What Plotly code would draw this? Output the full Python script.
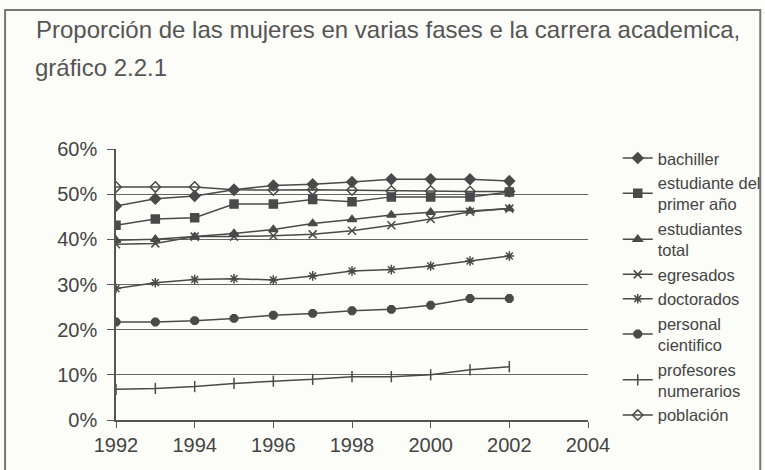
import plotly.graph_objects as go

# años y proporciones
years = [1992, 1993, 1994, 1995, 1996, 1997, 1998, 1999, 2000, 2001, 2002]

bachiller = [0.474, 0.490, 0.496, 0.510, 0.519, 0.522, 0.527, 0.533, 0.533, 0.533, 0.529]
primer_ano = [0.431, 0.445, 0.448, 0.478, 0.478, 0.488, 0.483, 0.494, 0.494, 0.494, 0.505]
estudiantes_total = [0.398, 0.400, 0.406, 0.413, 0.422, 0.435, 0.444, 0.454, 0.460, 0.463, 0.468]
egresados = [0.389, 0.391, 0.406, 0.406, 0.408, 0.411, 0.419, 0.431, 0.445, 0.461, 0.468]
doctorados = [0.291, 0.304, 0.311, 0.313, 0.310, 0.319, 0.330, 0.333, 0.341, 0.352, 0.363]
personal_cientifico = [0.217, 0.217, 0.220, 0.225, 0.232, 0.236, 0.242, 0.245, 0.254, 0.269, 0.269]
profesores = [0.068, 0.070, 0.074, 0.081, 0.086, 0.090, 0.096, 0.096, 0.100, 0.111, 0.118]
poblacion = [0.516, 0.516, 0.516, 0.510, 0.509, 0.510, 0.509, 0.507, 0.507, 0.506, 0.506]

series = [
    ("bachiller", bachiller, "diamond"),
    ("estudiante del<br>primer año", primer_ano, "square"),
    ("estudiantes<br>total", estudiantes_total, "triangle-up"),
    ("egresados", egresados, "x-thin-open"),
    ("doctorados", doctorados, "asterisk-open"),
    ("personal<br>cientifico", personal_cientifico, "octagon"),
    ("profesores<br>numerarios", profesores, "line-ns-open"),
    ("población", poblacion, "diamond-open"),
]

ink = "#4a4a4a"
fig = go.Figure()
for i, (name, vals, sym) in enumerate(series):
    fig.add_trace(go.Scatter(
        x=years, y=vals, name=name, mode="lines+markers", legendgroup=str(i),
        line=dict(color=ink, width=1.5),
        marker=dict(symbol=sym, size=8, color=ink, line=dict(color=ink, width=1.5)),
    ))

# marco exterior del gráfico
fig.add_shape(type="rect", xref="paper", yref="paper", x0=-0.235, x1=1.365, y0=-0.25, y1=1.513,
              line=dict(color="#777", width=2), layer="below")

# segunda línea del título
fig.add_annotation(text="gráfico 2.2.1", xref="paper", yref="paper", x=-0.176, xanchor="left",
                   y=1.302, yanchor="middle", showarrow=False, font=dict(size=24, color="#555"))

fig.update_layout(
    width=765, height=470,
    margin=dict(l=116, r=177, t=149, b=50, autoexpand=False),
    paper_bgcolor="#fcfcf9", plot_bgcolor="#fcfcf9",
    font=dict(family="Liberation Sans, Arial, sans-serif", color="#444"),
    title=dict(text="Proporción de las mujeres en varias fases e la carrera academica,",
               x=0.047, xanchor="left", y=0.938, yanchor="middle",
               font=dict(size=24, color="#555")),
    legend=dict(x=1.063, xanchor="left", y=1.03, yanchor="top", tracegroupgap=0,
                maxheight=470, font=dict(size=16.5, color="#444"), bgcolor="rgba(0,0,0,0)"),
    showlegend=True,
)
fig.update_xaxes(range=[1992, 2004], dtick=2, tick0=1992, showgrid=False,
                 showline=True, linecolor="#555", linewidth=1.5,
                 ticks="outside", ticklen=6, tickcolor="#555",
                 tickfont=dict(size=20, color="#444"), zeroline=False)
fig.update_yaxes(range=[0, 0.6], dtick=0.1, tickformat=".0%", showgrid=True,
                 gridcolor="#666", gridwidth=1, showline=True, linecolor="#555", linewidth=1.5,
                 ticks="outside", ticklen=7, tickcolor="#555", ticklabelstandoff=6,
                 tickfont=dict(size=20, color="#444"), zeroline=False)

fig.write_html("out.html", config={"displayModeBar": False},
               post_script="document.body.style.margin='0';document.body.style.overflow='hidden';")
